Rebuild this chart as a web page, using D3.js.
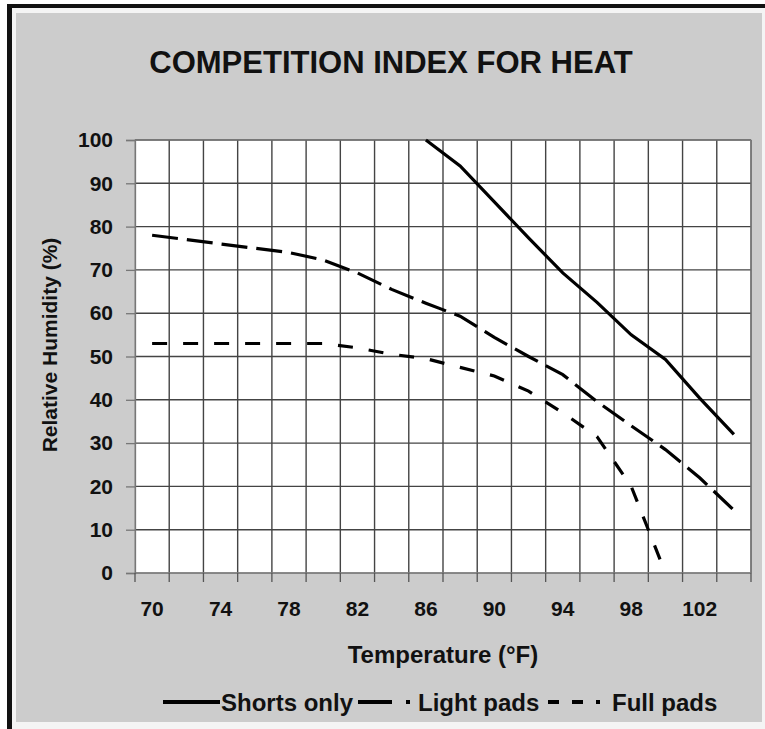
<!DOCTYPE html>
<html><head><meta charset="utf-8">
<script src="https://cdn.jsdelivr.net/npm/d3@7"></script>
<style>
html,body{margin:0;padding:0;background:#fff;}
svg{display:block;}
text{font-family:"Liberation Sans",Arial,sans-serif;font-weight:bold;fill:#111;}
</style></head>
<body>
<svg id="chart" width="765" height="729"></svg>
<script>
// ---- data ----
const temperatures = [70,72,74,76,78,80,82,84,86,88,90,92,94,96,98,100,102,104];
const shortsOnly = [null,null,null,null,null,null,null,null,100,94,85.7,77.4,69.3,62.5,55,49.3,40.4,32];
const lightPads  = [78,77,76,75,74,72.3,69.3,65.5,62.3,59.3,54.4,50,45.8,39.6,34,28.5,22,14.5];
const fullPads   = [53,53,53,53,53,53,52,50.5,49.5,47.5,45.5,42,37,31.5,20,0,null,null];
const xTickLabels = [70,74,78,82,86,90,94,98,102];
const yTicks = [0,10,20,30,40,50,60,70,80,90,100];
const seriesNames = ["Shorts only","Light pads","Full pads"];
const titleText = "COMPETITION INDEX FOR HEAT";
const xTitle = "Temperature (°F)";
const yTitle = "Relative Humidity (%)";

// ---- layout ----
const svg = d3.select("#chart");
const L = 135, R = 751, T = 140, B = 573;

// frame
svg.append("rect").attr("x",7).attr("y",4).attr("width",758).attr("height",725).attr("fill","#111");
svg.append("rect").attr("x",12).attr("y",8).attr("width",753).attr("height",721).attr("fill","#f4f4f4");
svg.append("rect").attr("x",16).attr("y",13).attr("width",746).attr("height",709).attr("fill","#cccccc");

const x = d3.scaleBand().domain(temperatures).range([L,R]).paddingInner(0).paddingOuter(0);
const y = d3.scaleLinear().domain([0,100]).range([B,T]);
const cx = d => x(d) + x.bandwidth()/2;

// plot area
svg.append("rect").attr("x",L).attr("y",T).attr("width",R-L).attr("height",B-T).attr("fill","#fff");

// gridlines
const grid = svg.append("g");
grid.selectAll("line.h").data(yTicks.slice(1)).join("line")
  .attr("x1",L).attr("x2",R).attr("y1",d=>y(d)).attr("y2",d=>y(d))
  .attr("stroke","#444").attr("stroke-width",1.4);
const bounds = temperatures.slice(1).map(t=>x(t)).concat([R]);
grid.selectAll("line.v").data(bounds).join("line")
  .attr("x1",d=>d).attr("x2",d=>d).attr("y1",T).attr("y2",B)
  .attr("stroke","#444").attr("stroke-width",1.4);
svg.append("rect").attr("x",L).attr("y",T).attr("width",R-L).attr("height",B-T)
  .attr("fill","none").attr("stroke","#888").attr("stroke-width",1);

// y axis
const yAxis = svg.append("g").attr("transform",`translate(${L},0)`)
  .call(d3.axisLeft(y).tickValues(yTicks).tickSize(9).tickPadding(13).tickFormat(d3.format("d")));
yAxis.select(".domain").attr("stroke","#777").attr("stroke-width",1.3);
yAxis.selectAll(".tick line").attr("stroke","#777").attr("stroke-width",1.3);
yAxis.selectAll("text").style("font-size","21px").attr("fill","#111");

// x axis: ticks at band boundaries, labels at centres
const xAxisG = svg.append("g").attr("transform",`translate(0,${B})`);
xAxisG.append("line").attr("x1",L).attr("x2",R).attr("y1",0).attr("y2",0).attr("stroke","#777").attr("stroke-width",1.3);
xAxisG.selectAll("line.t").data([L].concat(bounds)).join("line")
  .attr("x1",d=>d).attr("x2",d=>d).attr("y1",0).attr("y2",9)
  .attr("stroke","#555").attr("stroke-width",1.3);
xAxisG.selectAll("text").data(xTickLabels).join("text")
  .attr("x",d=>cx(d)).attr("y",43).attr("text-anchor","middle")
  .style("font-size","21px").text(d=>d);

// titles
svg.append("text").attr("x",391).attr("y",73).attr("text-anchor","middle").style("font-size","31px").text(titleText);
svg.append("text").attr("x",443).attr("y",663).attr("text-anchor","middle").style("font-size","24px").text(xTitle);
svg.append("text").attr("transform",`translate(57,345) rotate(-90)`).attr("text-anchor","middle")
  .style("font-size","21px").text(yTitle);

// lines
const line = d3.line().defined(d=>d.v!=null).x(d=>cx(d.t)).y(d=>y(d.v)).curve(d3.curveLinear);
const mk = arr => temperatures.map((t,i)=>({t:t,v:arr[i]}));
const styles = [
  {data:shortsOnly, dash:null},
  {data:lightPads, dash:"26,9"},
  {data:fullPads, dash:"15,16"}
];
styles.forEach(s=>{
  svg.append("path").datum(mk(s.data)).attr("d",line)
    .attr("fill","none").attr("stroke","#000").attr("stroke-width",3.2)
    .attr("stroke-dasharray",s.dash);
});

// legend
const lg = svg.append("g");
const legendItems = [
  {name:seriesNames[0], x1:163, x2:220, dash:null, tx:221},
  {name:seriesNames[1], x1:358, x2:414, dash:"34,14,4,100", tx:418},
  {name:seriesNames[2], x1:548, x2:610, dash:"11,13,11,13,4,100", tx:612}
];
legendItems.forEach(it=>{
  lg.append("line").attr("x1",it.x1).attr("x2",it.x2).attr("y1",702).attr("y2",702)
    .attr("stroke","#000").attr("stroke-width",4).attr("stroke-dasharray",it.dash);
  lg.append("text").attr("x",it.tx).attr("y",711).style("font-size","24px").text(it.name);
});
</script>
</body></html>
